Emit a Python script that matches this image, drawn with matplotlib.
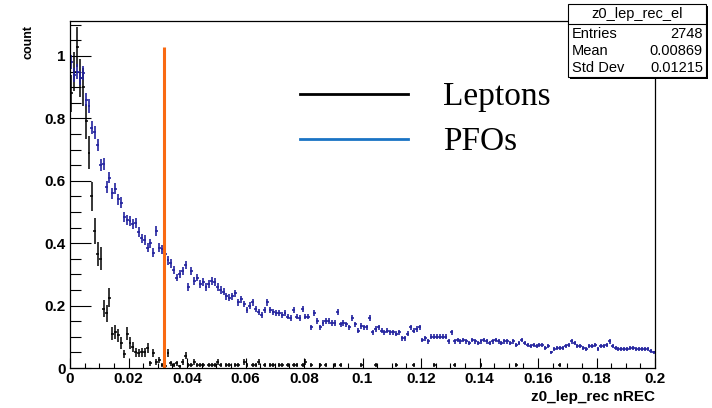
import numpy as np
import matplotlib
matplotlib.use('Agg')
import matplotlib.pyplot as plt
from matplotlib.ticker import MultipleLocator
from matplotlib.patches import Rectangle
from matplotlib.lines import Line2D

# ── Data (bin contents, normalised to peak) ─────────────────────────────────
BIN_LO, BIN_HI, N_BINS = 0.0, 0.2, 200

pfo_vals = [
    0.98, 0.94, 0.95, 0.93, 0.945, 0.86, 0.84, 0.77, 0.755, 0.715,
    0.65, 0.655, 0.58, 0.61, 0.56, 0.575, 0.54, 0.53, 0.485, 0.475,
    0.47, 0.46, 0.465, 0.435, 0.415, 0.41, 0.385, 0.40, 0.37, 0.44,
    0.385, 0.38, 0.365, 0.345, 0.335, 0.315, 0.29, 0.30, 0.31, 0.33,
    0.26, 0.31, 0.28, 0.29, 0.27, 0.275, 0.26, 0.27, 0.28, 0.275,
    0.26, 0.25, 0.245, 0.23, 0.225, 0.23, 0.24, 0.21, 0.22, 0.205,
    0.185, 0.20, 0.21, 0.19, 0.18, 0.17, 0.185, 0.21, 0.185, 0.18,
    0.175, 0.175, 0.17, 0.175, 0.165, 0.16, 0.185, 0.165, 0.16, 0.19,
    0.165, 0.165, 0.13, 0.175, 0.15, 0.13, 0.145, 0.15, 0.15, 0.145,
    0.145, 0.18, 0.14, 0.145, 0.14, 0.13, 0.16, 0.14, 0.12, 0.135,
    0.13, 0.13, 0.16, 0.115, 0.125, 0.13, 0.12, 0.115, 0.12, 0.115,
    0.115, 0.11, 0.115, 0.095, 0.095, 0.11, 0.13, 0.12, 0.125, 0.13,
    0.09, 0.095, 0.085, 0.10, 0.10, 0.10, 0.10, 0.10, 0.10, 0.085,
    0.115, 0.085, 0.09, 0.085, 0.09, 0.085, 0.08, 0.09, 0.085, 0.08,
    0.085, 0.09, 0.085, 0.08, 0.085, 0.09, 0.085, 0.08, 0.085, 0.085,
    0.08, 0.085, 0.075, 0.08, 0.09, 0.08, 0.075, 0.07, 0.075, 0.07,
    0.075, 0.075, 0.065, 0.07, 0.05, 0.06, 0.065, 0.065, 0.065, 0.07,
    0.075, 0.085, 0.08, 0.07, 0.07, 0.065, 0.06, 0.07, 0.07, 0.075,
    0.06, 0.07, 0.07, 0.075, 0.085, 0.07, 0.065, 0.06, 0.06, 0.06,
    0.06, 0.065, 0.065, 0.06, 0.06, 0.06, 0.06, 0.06, 0.055, 0.05,
]

lep_vals = [
    0.88, 0.95, 1.03, 0.93, 0.90, 0.79, 0.69, 0.55, 0.44, 0.365,
    0.35, 0.19, 0.175, 0.225, 0.11, 0.115, 0.105, 0.08, 0.045, 0.11,
    0.08, 0.068, 0.05, 0.048, 0.05, 0.05, 0.064, 0.016, 0.048, 0.02,
    0.026, 0.01, 0.005, 0.048, 0.016, 0.01, 0.016, 0.005, 0.02, 0.04,
    0.01, 0.01, 0.02, 0.01, 0.01, 0.01, 0, 0.01, 0.01, 0.01,
    0.02, 0.01, 0, 0.01, 0.01, 0, 0.01, 0.01, 0, 0.02,
    0.01, 0, 0.01, 0.01, 0.02, 0, 0.01, 0, 0.01, 0.01,
    0, 0.01, 0.01, 0, 0.01, 0, 0.01, 0.01, 0, 0.01,
    0.02, 0, 0.01, 0, 0, 0.01, 0, 0.01, 0, 0,
    0.01, 0, 0.01, 0, 0, 0, 0, 0, 0, 0.01,
    0, 0, 0, 0, 0.01, 0, 0, 0, 0, 0,
    0, 0.01, 0, 0, 0, 0, 0, 0.01, 0, 0,
    0, 0, 0, 0, 0.01, 0, 0, 0, 0, 0,
    0, 0.01, 0, 0, 0, 0, 0, 0, 0, 0,
    0.01, 0, 0, 0, 0, 0, 0, 0, 0, 0,
    0, 0, 0.01, 0, 0, 0, 0, 0, 0, 0,
    0, 0, 0, 0, 0, 0, 0, 0.01, 0, 0,
    0, 0, 0, 0, 0, 0, 0, 0, 0, 0,
    0, 0, 0, 0, 0, 0, 0, 0, 0, 0,
    0, 0, 0, 0, 0, 0, 0, 0, 0, 0,
]

# peak-bin counts used for the sqrt(N) error bars
LEP_PEAK_N = 250
PFO_PEAK_N = 1800

CUT_X = 0.032
CUT_TOP = 1.03

stats_title = 'z0_lep_rec_el'
stats_rows = [('Entries', '2748'), ('Mean', '0.00869'), ('Std Dev', '0.01215')]
legend_labels = ['Leptons', 'PFOs']

# ── Figure ───────────────────────────────────────────────────────────────────
W, H = 712, 408
fx = lambda px: px / W
fy = lambda py: 1 - py / H

fig = plt.figure(figsize=(W / 100, H / 100), dpi=100)
fig.patch.set_facecolor('white')
ax = fig.add_axes([fx(70), fy(368), fx(655) - fx(70), fy(21) - fy(368)])

bw = (BIN_HI - BIN_LO) / N_BINS
centers = BIN_LO + (np.arange(N_BINS) + 0.5) * bw
pfo = np.array(pfo_vals)
lep = np.array(lep_vals)

nz = lep > 0
ax.errorbar(centers[nz], lep[nz], yerr=np.sqrt(lep[nz] / LEP_PEAK_N), xerr=bw / 2,
            fmt='none', ecolor='black', elinewidth=1.1)
ax.errorbar(centers, pfo, yerr=np.sqrt(pfo / PFO_PEAK_N), xerr=bw / 2,
            fmt='none', ecolor='#22229e', elinewidth=1.2)

ax.plot([CUT_X, CUT_X], [0, CUT_TOP], color='#f96a12', lw=2.2, solid_capstyle='butt')

ax.set_xlim(BIN_LO, BIN_HI)
ax.set_ylim(0, 1.112)

ax.xaxis.set_major_locator(MultipleLocator(0.02))
ax.xaxis.set_minor_locator(MultipleLocator(0.005))
ax.yaxis.set_major_locator(MultipleLocator(0.2))
ax.yaxis.set_minor_locator(MultipleLocator(0.05))
ax.xaxis.set_major_formatter(plt.FuncFormatter(lambda v, p: f'{v:g}'))
ax.yaxis.set_major_formatter(plt.FuncFormatter(lambda v, p: f'{v:g}'))

ax.tick_params(axis='x', which='major', direction='in', length=7, width=0.8, pad=3)
ax.tick_params(axis='x', which='minor', direction='in', length=3.5, width=0.8)
ax.tick_params(axis='y', which='major', direction='in', length=15, width=0.8, pad=3)
ax.tick_params(axis='y', which='minor', direction='in', length=8, width=0.8)
for lab in ax.get_xticklabels() + ax.get_yticklabels():
    lab.set_fontweight('bold')
    lab.set_fontsize(11)
    lab.set_fontfamily('Liberation Sans')
for sp in ax.spines.values():
    sp.set_linewidth(0.9)

fig.text(fx(29), fy(25), 'count', rotation=90, ha='center', va='top',
         fontsize=9, fontweight='bold', family='Liberation Sans')
fig.text(fx(655), fy(397), 'z0_lep_rec nREC', ha='right', va='center',
         fontsize=11, fontweight='bold', family='Liberation Sans')

# legend drawn on the figure
leg_colors = ['black', '#1a73c4']
leg_lines_y = [94, 139]
for lab, col, ypx in zip(legend_labels, leg_colors, leg_lines_y):
    fig.add_artist(Line2D([fx(300), fx(408)], [fy(ypx), fy(ypx)], color=col, lw=2.0,
                          transform=fig.transFigure))
    fig.text(fx(443), fy(ypx + 11), lab, ha='left', va='baseline', fontsize=24,
             family='Liberation Serif')

# stats box
bx0, bx1, by0, by1 = 568, 706, 4, 77
fig.add_artist(Rectangle((fx(bx0 + 2), fy(by1 + 2)), fx(bx1) - fx(bx0), fy(by0) - fy(by1),
                         transform=fig.transFigure, facecolor='black', edgecolor='none', zorder=5))
fig.add_artist(Rectangle((fx(bx0), fy(by1)), fx(bx1) - fx(bx0), fy(by0) - fy(by1),
                         transform=fig.transFigure, facecolor='white', edgecolor='black',
                         lw=0.8, zorder=6))
fig.add_artist(Line2D([fx(bx0), fx(bx1)], [fy(24), fy(24)], color='black', lw=0.8,
                      transform=fig.transFigure, zorder=7))
fig.text(fx((bx0 + bx1) / 2), fy(14), stats_title, ha='center', va='center',
         fontsize=10.5, family='Liberation Sans', zorder=8)
for i, (k, v) in enumerate(stats_rows):
    ypx = 33.5 + i * 17.5
    fig.text(fx(bx0 + 4), fy(ypx), k, ha='left', va='center', fontsize=10.5,
             family='Liberation Sans', zorder=8)
    fig.text(fx(bx1 - 3), fy(ypx), v, ha='right', va='center', fontsize=10.5,
             family='Liberation Sans', zorder=8)

fig.savefig('out.png', dpi=100, facecolor='white')
